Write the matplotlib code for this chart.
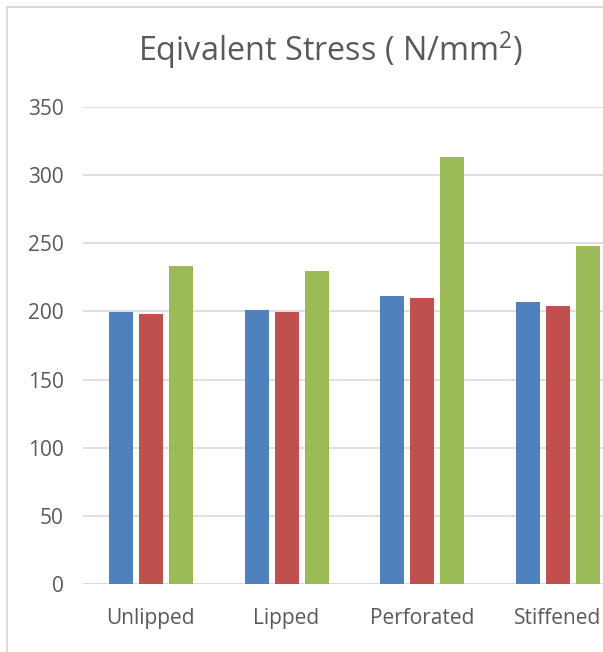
import numpy as np
import matplotlib.pyplot as plt
from matplotlib.lines import Line2D

plt.rcParams['font.family'] = ['Open Sans', 'DejaVu Sans']
plt.rcParams['mathtext.fontset'] = 'custom'
plt.rcParams['mathtext.rm'] = 'Open Sans'
plt.rcParams['mathtext.it'] = 'Open Sans'

# chart values
categories = ["Unlipped", "Lipped", "Perforated", "Stiffened"]
series_a = [199.3, 200.7, 211.0, 206.6]   # blue
series_b = [197.8, 199.3, 209.5, 203.7]   # red
series_c = [233.7, 230.0, 313.5, 248.3]   # green
yticks = [0, 50, 100, 150, 200, 250, 300, 350]

colors = ["#4F81BD", "#C0504D", "#9BBB59"]
text_col = "#595959"
grid_col = "#D9D9D9"

fig = plt.figure(figsize=(6.03, 6.52), dpi=100)
ax = fig.add_axes([83 / 603, 68 / 652, 520 / 603, 477 / 652])

x = np.arange(len(categories))
width = 0.177
step = 0.221
for i, (vals, c) in enumerate(zip([series_a, series_b, series_c], colors)):
    ax.bar(x + (i - 1) * step, vals, width, color=c, zorder=3)

ax.set_ylim(0, 350)
ax.set_xlim(-0.5, -0.5 + 520 / 135.7)
ax.set_yticks(yticks)
ax.set_xticks(x)
ax.set_xticklabels(categories)

ax.yaxis.grid(True, color=grid_col, lw=1.2, zorder=0)
ax.axhline(0, color=grid_col, lw=1.8, zorder=2)
for s in ax.spines.values():
    s.set_visible(False)
ax.tick_params(axis='both', length=0, colors=text_col)
ax.tick_params(axis='y', pad=14, labelsize=15)
ax.tick_params(axis='x', pad=17, labelsize=15)

fig.text(0.548, 1 - 61 / 652, "Eqivalent Stress ( N/mm$^2$)", ha='center',
         va='baseline', fontsize=23.3, color=text_col)

# chart area border (cropped on the right and bottom)
fig.add_artist(Line2D([7 / 603, 7 / 603], [0, 1 - 7 / 652],
                      color=grid_col, lw=1.3, transform=fig.transFigure))
fig.add_artist(Line2D([7 / 603, 1], [1 - 7 / 652, 1 - 7 / 652],
                      color=grid_col, lw=1.3, transform=fig.transFigure))

fig.savefig("out.png", dpi=100)
